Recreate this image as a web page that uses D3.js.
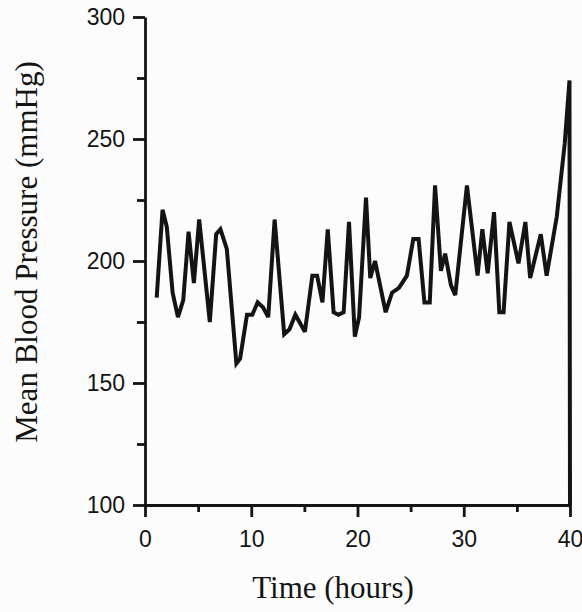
<!DOCTYPE html>
<html>
<head>
<meta charset="utf-8">
<script src="https://cdn.jsdelivr.net/npm/d3@7"></script>
<style>
  html, body { margin: 0; padding: 0; background: #fcfcfc; }
  svg { display: block; }
</style>
</head>
<body>
<svg id="chart" width="582" height="612"></svg>
<script>
// Mean blood pressure recorded over the course of the experiment
const hours = [1.1, 1.65, 2.05, 2.6, 3.1, 3.6, 4.1, 4.6, 5.1, 6.1, 6.7, 7.1, 7.7, 8.6, 8.95,
  9.6, 10.1, 10.6, 11.1, 11.6, 12.2, 13.1, 13.6, 14.15, 15.05, 15.75, 16.2, 16.7, 17.2, 17.75,
  18.2, 18.7, 19.2, 19.75, 20.15, 20.8, 21.2, 21.65, 22.65, 23.25, 23.9, 24.65, 25.25, 25.75,
  26.3, 26.8, 27.3, 27.85, 28.25, 28.8, 29.2, 30.3, 31.3, 31.75, 32.25, 32.85, 33.35, 33.75,
  34.3, 35.15, 35.8, 36.25, 37.25, 37.8, 38.75, 39.5, 39.95, 40.0];
const pressure = [185, 221, 214, 187, 177, 184, 212, 191, 217, 175, 211, 213, 205, 158, 160,
  178, 178, 183, 181, 177, 217, 170, 172, 178, 171, 194, 194, 183, 213, 179,
  178, 179, 216, 169, 177, 226, 193, 200, 179, 187, 189, 194, 209, 209,
  183, 183, 231, 196, 203, 190, 186, 231, 194, 213, 195, 220, 179, 179,
  216, 199, 216, 193, 211, 194, 218, 248, 274, 100];

const xMajorTicks = [0, 10, 20, 30, 40];
const xMinorTicks = [5, 15, 25, 35];
const yMajorTicks = [100, 150, 200, 250, 300];
const yMinorTicks = [125, 175, 225, 275];

const xTitle = "Time (hours)";
const yTitle = "Mean Blood Pressure (mmHg)";

const svg = d3.select("#chart");
const plotLeft = 145, plotRight = 570, plotTop = 17, plotBottom = 505;

const x = d3.scaleLinear().domain([0, 40]).range([plotLeft, plotRight]);
const y = d3.scaleLinear().domain([100, 300]).range([plotBottom, plotTop]);

const ink = "#141414";

// minor ticks (no labels)
svg.append("g")
  .attr("transform", `translate(0,${plotBottom})`)
  .call(d3.axisBottom(x).tickValues(xMinorTicks).tickSize(7).tickFormat(""))
  .call(g => g.select(".domain").remove());
svg.append("g")
  .attr("transform", `translate(${plotLeft},0)`)
  .call(d3.axisLeft(y).tickValues(yMinorTicks).tickSize(8).tickFormat(""))
  .call(g => g.select(".domain").remove());

// major axes
svg.append("g")
  .attr("transform", `translate(0,${plotBottom})`)
  .call(d3.axisBottom(x).tickValues(xMajorTicks).tickSize(12).tickSizeOuter(0).tickPadding(14).tickFormat(d3.format("d")));
svg.append("g")
  .attr("transform", `translate(${plotLeft},0)`)
  .call(d3.axisLeft(y).tickValues(yMajorTicks).tickSize(12).tickSizeOuter(0).tickPadding(8).tickFormat(d3.format("d")));

svg.selectAll(".domain, .tick line")
  .attr("stroke", ink)
  .attr("stroke-width", 2.8);
svg.selectAll(".tick text")
  .attr("fill", ink)
  .style("font-family", "'Liberation Sans', Arial, Helvetica, sans-serif")
  .style("font-size", "23px");

// the pressure trace
const line = d3.line()
  .x((d, i) => x(hours[i]))
  .y(d => y(d));
svg.append("path")
  .datum(pressure)
  .attr("fill", "none")
  .attr("stroke", ink)
  .attr("stroke-width", 4)
  .attr("stroke-linejoin", "miter")
  .attr("stroke-miterlimit", 3)
  .attr("d", line);

// axis titles
svg.append("text")
  .attr("x", 333)
  .attr("y", 598)
  .attr("text-anchor", "middle")
  .attr("fill", ink)
  .style("font-family", "'Liberation Serif', 'Times New Roman', Times, serif")
  .style("font-size", "31px")
  .text(xTitle);

svg.append("text")
  .attr("transform", `translate(37,252) rotate(-90)`)
  .attr("text-anchor", "middle")
  .attr("fill", ink)
  .style("font-family", "'Liberation Serif', 'Times New Roman', Times, serif")
  .style("font-size", "31px")
  .text(yTitle);
</script>
</body>
</html>
